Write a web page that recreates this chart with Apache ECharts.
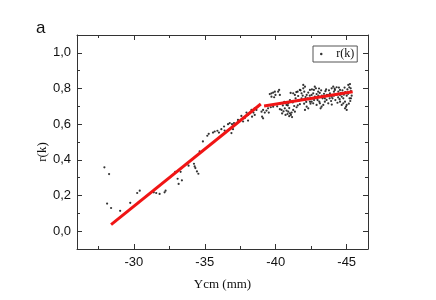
<!DOCTYPE html>
<html><head><meta charset="utf-8">
<script src="https://cdn.jsdelivr.net/npm/echarts@6/dist/echarts.min.js"></script>
<style>html,body{margin:0;padding:0;background:#fff}#c{width:436px;height:300px}</style>
</head><body><div id="c"></div>
<script>
// Scatter data r(k) vs Ycm (mm)
const ycm = [
-27.93,-28.26,-28.12,-28.40,-29.04,-29.75,-30.24,-30.42,-31.41,-31.58,-31.82,-32.17,-32.24,-32.92,-33.10,-33.30,-33.09,-33.39,-33.16,-33.86,
-33.77,-34.29,-34.45,-34.55,-34.24,-34.34,-34.64,-34.87,-35.18,-35.28,-35.58,-35.70,-35.89,-36.00,-36.17,-36.36,-36.40,-36.64,-36.76,-36.92,
-37.06,-36.88,-36.99,-37.34,-37.58,-37.70,-37.82,-37.94,-38.05,-38.17,-38.29,-38.43,-38.52,-38.64,-38.05,-38.33,-38.52,-39.00,-39.11,-39.23,
-39.35,-39.46,-39.11,
-39.58,-39.82,-39.98,-40.17,-39.70,-39.89,-39.04,-39.51,-39.65,-39.82,-40.29,-40.41,-40.64,-40.76,-40.88,-41.00,-41.12,-40.83,-41.23,-40.69,
-41.07,-41.35,-41.47,-41.30,-41.23,-41.35,-41.54,-41.70,-41.82,-41.58,-41.94,-42.06,-42.01,-42.18,-42.29,-42.41,-41.82,-42.06,-42.25,-42.41,
-41.94,-42.18,-42.29,-42.06,-40.88,-40.76,-42.53,-42.64,-42.76,-42.88,-42.99,-42.69,-42.83,-42.53,-42.64,-42.88,-43.07,-43.11,-43.23,-43.35,
-43.16,-43.94,-44.05,-44.17,-44.29,-44.10,-43.82,-43.70,-43.94,-44.53,-44.65,-44.76,-44.53,-44.76,-44.88,-44.65,-44.95,-45.00,-44.88,-45.00,
-45.11,-45.23,-45.18,-45.28,-44.41,-44.53,-43.35,-43.46,-43.58,-43.46,-43.70,-39.70,-39.94,-40.24,-40.29,
-40.10,-40.30,-40.50,-40.60,-41.00,-41.20,-41.40,-41.60,-41.70,-41.90,-42.10,-42.30,-42.40,-42.60,-42.70,-42.90,-43.00,-43.10,-43.20,-43.40,
-43.50,-43.60,-43.80,-43.90,-44.00,-44.10,-44.20,-44.30,-44.40,-44.50,-44.60,-44.70,-44.80,-44.90,-45.00,-45.10,-45.20,-45.30,-45.25,-45.15,
-44.35,-43.95,-43.55,-43.25,-42.95,-42.45,-42.15,-41.75,-41.45,-41.05,-40.95,-40.55,-40.45,-40.95,-41.15,-40.85,-41.55,-42.00,-42.55,-42.75,
-43.05,-43.30,-43.75,-44.15,-44.45,-44.85,-45.05,-45.35,-45.30
];
const rk = [
0.358,0.320,0.155,0.130,0.114,0.159,0.214,0.227,0.218,0.214,0.209,0.218,0.227,0.333,0.337,0.333,0.294,0.285,0.265,0.367,
0.378,0.363,0.335,0.322,0.378,0.354,0.447,0.503,0.535,0.546,0.553,0.559,0.563,0.553,0.572,0.587,0.564,0.600,0.606,0.600,
0.606,0.550,0.572,0.624,0.646,0.615,0.634,0.665,0.652,0.661,0.680,0.665,0.689,0.680,0.620,0.642,0.652,0.670,0.680,0.665,
0.676,0.689,0.633,
0.769,0.777,0.764,0.782,0.754,0.751,0.642,0.665,0.695,0.698,0.684,0.680,0.689,0.676,0.670,0.661,0.665,0.657,0.680,0.652,
0.652,0.670,0.695,0.702,0.773,0.764,0.782,0.792,0.773,0.758,0.801,0.810,0.782,0.764,0.777,0.792,0.745,0.736,0.745,0.726,
0.820,0.698,0.689,0.680,0.717,0.708,0.764,0.773,0.754,0.769,0.782,0.792,0.801,0.726,0.717,0.708,0.726,0.717,0.698,0.708,
0.689,0.801,0.810,0.792,0.807,0.782,0.773,0.764,0.754,0.764,0.754,0.745,0.726,0.717,0.726,0.708,0.698,0.708,0.689,0.680,
0.820,0.825,0.807,0.801,0.782,0.792,0.754,0.745,0.736,0.726,0.717,0.773,0.782,0.792,0.764,
0.700,0.715,0.705,0.725,0.735,0.722,0.745,0.730,0.712,0.760,0.752,0.740,0.760,0.745,0.735,0.745,0.760,0.775,0.790,0.770,
0.785,0.765,0.745,0.730,0.745,0.760,0.735,0.765,0.750,0.740,0.775,0.790,0.765,0.780,0.760,0.770,0.745,0.785,0.730,0.715,
0.720,0.710,0.795,0.760,0.735,0.715,0.725,0.790,0.780,0.775,0.690,0.672,0.660,0.645,0.640,0.705,0.705,0.715,0.795,0.810,
0.800,0.745,0.790,0.800,0.805,0.805,0.795,0.760,0.745
];
// Linear fits (end points)
const fit1X = [-28.40, -38.95];
const fit1Y = [0.037, 0.713];
const fit2X = [-39.18, -45.42];
const fit2Y = [0.702, 0.782];
// Ticks
const xMajor = [-30, -35, -40, -45];
const xMinor = [-27.5, -32.5, -37.5, -42.5];
const yMajor = [0, 0.2, 0.4, 0.6, 0.8, 1.0];
const yMinor = [0.1, 0.3, 0.5, 0.7, 0.9];

const axisColor = '#333';
const lbl = {fontFamily: 'Liberation Sans', fontSize: 13, color: '#111'};
function xAx(pos, ticks, len, showLine, showLabel) {
  const a = {
    type: 'value', position: pos, min: -46.5, max: -26, inverse: true,
    axisLine: {show: showLine, onZero: false, lineStyle: {color: axisColor, width: 1}},
    axisTick: {show: true, inside: true, length: len, customValues: ticks, lineStyle: {color: axisColor}},
    axisLabel: showLabel ? Object.assign({customValues: ticks, margin: 7}, lbl) : {show: false},
    splitLine: {show: false}
  };
  if (showLabel) {
    a.name = 'Ycm (mm)'; a.nameLocation = 'middle'; a.nameGap = 29; a.nameMoveOverlap = false;
    a.nameTextStyle = {fontFamily: 'Liberation Serif', fontSize: 13, color: '#111'};
  }
  return a;
}
function yAx(pos, ticks, len, showLine, showLabel) {
  const a = {
    type: 'value', position: pos, min: -0.1, max: 1.1,
    axisLine: {show: showLine, onZero: false, lineStyle: {color: axisColor, width: 1}},
    axisTick: {show: true, inside: true, length: len, customValues: ticks, lineStyle: {color: axisColor}},
    axisLabel: showLabel ? Object.assign({customValues: ticks, margin: 6,
      formatter: v => v.toFixed(1).replace('.', ',')}, lbl) : {show: false},
    splitLine: {show: false}
  };
  if (showLabel) {
    a.name = 'r(k)'; a.nameLocation = 'middle'; a.nameGap = 28; a.nameMoveOverlap = false;
    a.nameTextStyle = {fontFamily: 'Liberation Serif', fontSize: 13, color: '#111', padding: [0, 20, 0, 0]};
  }
  return a;
}

const chart = echarts.init(document.getElementById('c'));
chart.setOption({
  animation: false,
  backgroundColor: '#fff',
  title: {text: 'a', left: 31, top: 15, textStyle: {fontFamily: 'Liberation Sans', fontSize: 17, fontWeight: 'normal', color: '#111'}},
  grid: {left: 77, top: 35, right: 68, bottom: 51, containLabel: false},
  legend: {
    data: ['r(k)'], left: 313, top: 46, orient: 'horizontal',
    padding: [2, 3, 2, 7], borderColor: '#555', borderWidth: 1, borderRadius: 0,
    itemWidth: 20, itemHeight: 2.5, itemGap: 0,
    textStyle: {fontFamily: 'Liberation Serif', fontSize: 12, color: '#111'}
  },
  xAxis: [
    xAx('bottom', xMajor, 5, true, true),
    xAx('top', xMajor, 5, true, false),
    xAx('bottom', xMinor, 3, false, false),
    xAx('top', xMinor, 3, false, false)
  ],
  yAxis: [
    yAx('left', yMajor, 5, true, true),
    yAx('right', yMajor, 5, true, false),
    yAx('left', yMinor, 3, false, false),
    yAx('right', yMinor, 3, false, false)
  ],
  series: [
    {
      name: 'r(k)', type: 'scatter', symbol: 'circle', symbolSize: 2.2,
      itemStyle: {color: '#000'},
      data: ycm.map((x, i) => [x, rk[i]])
    },
    {
      name: 'fit1', type: 'line', symbol: 'none', z: 3,
      lineStyle: {color: '#f01515', width: 3},
      data: fit1X.map((x, i) => [x, fit1Y[i]])
    },
    {
      name: 'fit2', type: 'line', symbol: 'none', z: 3,
      lineStyle: {color: '#f01515', width: 3},
      data: fit2X.map((x, i) => [x, fit2Y[i]])
    }
  ]
});
</script>
</body></html>
